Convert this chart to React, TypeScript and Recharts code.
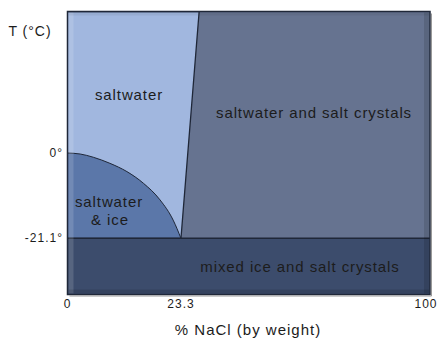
import { ComposedChart, Area, XAxis, YAxis, ReferenceLine } from "recharts";

// axis ticks
const xTicks = [0, 23.3, 100];
const yTicks = [-21.1, 0];
const tMin = -35;
const tMax = 35;
const eutecticT = -21.1;

// ice liquidus: pure water freezing point down to the eutectic point
const iceCurveX = [0, 2.6, 5.3, 8.7, 12.2, 15.6, 19.0, 21.7, 23.3];
const iceCurveT = [0, -0.25, -1.05, -2.55, -4.6, -7.5, -11.6, -16.6, -21.1];

// salt solubility line: eutectic point up to the top of the chart
const saltLineX = [23.3, 28.9];
const saltLineT = [-21.1, 35];

const FONT = "'Liberation Sans', Arial, sans-serif";
const INK = "#1c1c1c";
const EDGE = "#1f2738";

// the drawing is schematic: 23.3 % sits at ~31 % of the width
function piecewiseScale(stops: number[], fracs: number[]): any {
  let dom = [stops[0], stops[stops.length - 1]];
  let rng = [0, 1];
  const scale: any = (v: number) => {
    let i = 0;
    while (i < stops.length - 2 && v > stops[i + 1]) i++;
    const t = (v - stops[i]) / (stops[i + 1] - stops[i]);
    const f = fracs[i] + t * (fracs[i + 1] - fracs[i]);
    return rng[0] + f * (rng[1] - rng[0]);
  };
  scale.domain = (d?: number[]) => {
    if (!d) return dom.slice();
    dom = d.slice();
    return scale;
  };
  scale.range = (r?: number[]) => {
    if (!r) return rng.slice();
    rng = r.slice();
    return scale;
  };
  scale.copy = () => piecewiseScale(stops, fracs).domain(dom).range(rng);
  scale.ticks = () => stops.slice();
  scale.tickFormat = () => (v: number) => String(v);
  scale.invert = (px: number) => {
    const f = (px - rng[0]) / (rng[1] - rng[0]);
    let i = 0;
    while (i < fracs.length - 2 && f > fracs[i + 1]) i++;
    const t = (f - fracs[i]) / (fracs[i + 1] - fracs[i]);
    return stops[i] + t * (stops[i + 1] - stops[i]);
  };
  return scale;
}

const xScale = piecewiseScale([0, 23.3, 100], [0, 0.313, 1]);

const band = (lo: number, hi: number) => [
  { x: xTicks[0], t: [lo, hi] },
  { x: xTicks[2], t: [lo, hi] },
];

const saltwaterData = [
  { x: iceCurveX[0], t: [eutecticT, tMax] },
  { x: saltLineX[0], t: [saltLineT[0], tMax] },
  { x: saltLineX[1], t: [saltLineT[1], tMax] },
];

const iceData = iceCurveX.map((x, i) => ({ x, t: [eutecticT, iceCurveT[i]] }));

const XTick = (props: any) => {
  const { x, y, payload, index } = props;
  // last label hugs the right edge of the picture
  const shift = index === xTicks.length - 1 ? -4 : 0;
  return (
    <text x={x + shift} y={y} dy={13} textAnchor="middle" fontSize={12} letterSpacing={1} fill={INK} stroke="none" fontFamily={FONT}>
      {payload.value}
    </text>
  );
};

const YTick = (props: any) => {
  const { x, y, payload } = props;
  return (
    <text x={x - 4.5} y={y} dy={4} textAnchor="end" fontSize={12} letterSpacing={1} fill={INK} stroke="none" fontFamily={FONT}>
      {payload.value}°
    </text>
  );
};

const label = (x: number, y: number, s: string, size = 15, ls = 0.9) => (
  <text x={x} y={y} textAnchor="middle" fontSize={size} letterSpacing={ls} fill={INK} fontFamily={FONT}>
    {s}
  </text>
);

export default function App() {
  const L = 67.5, T = 11.5, R = 430, B = 294.5;
  return (
    <div style={{ position: "absolute", left: 0, top: 0, width: 438, height: 339, background: "#fff" }}>
      <ComposedChart width={438} height={339} margin={{ top: T, right: 438 - R, bottom: 339 - B - 1, left: L - 1 }}>
        <XAxis
          type="number"
          dataKey="x"
          domain={[0, 100]}
          scale={xScale}
          ticks={xTicks}
          interval={0}
          height={1}
          axisLine={false}
          tickLine={false}
          tickSize={0}
          tickMargin={0}
          tick={<XTick />}
          allowDataOverflow
        />
        <YAxis
          type="number"
          domain={[tMin, tMax]}
          ticks={yTicks}
          interval={0}
          width={1}
          axisLine={false}
          tickLine={false}
          tickSize={0}
          tickMargin={0}
          tick={<YTick />}
          allowDataOverflow
        />
        <Area data={band(tMin, eutecticT)} dataKey="t" type="linear" fill="#3c4c6c" fillOpacity={1} stroke="none" isAnimationActive={false} dot={false} activeDot={false} />
        <Area data={band(eutecticT, tMax)} dataKey="t" type="linear" fill="#667390" fillOpacity={1} stroke="none" isAnimationActive={false} dot={false} activeDot={false} />
        <Area data={saltwaterData} dataKey="t" type="linear" fill="#a1b7df" fillOpacity={1} stroke={EDGE} strokeWidth={1.3} isAnimationActive={false} dot={false} activeDot={false} />
        <Area data={iceData} dataKey="t" type="monotone" fill="#5b77a9" fillOpacity={1} stroke={EDGE} strokeWidth={1} isAnimationActive={false} dot={false} activeDot={false} />
        <ReferenceLine y={eutecticT} stroke={EDGE} strokeWidth={1.5} />
      </ComposedChart>
      <svg width={438} height={339} style={{ position: "absolute", left: 0, top: 0, pointerEvents: "none" }}>
        {/* bevel of the plot frame */}
        <rect x={L + 1} y={T + 1} width={5} height={B - T - 2} fill="#ffffff" opacity={0.14} />
        <rect x={R - 6} y={T + 1} width={5} height={B - T - 2} fill="#000000" opacity={0.12} />
        <rect x={L + 1} y={B - 5} width={R - L - 2} height={4} fill="#000000" opacity={0.12} />
        <rect x={L + 1} y={T + 1} width={R - L - 2} height={3} fill="#000000" opacity={0.06} />
        <rect x={L} y={T} width={R - L} height={B - T} fill="none" stroke={EDGE} strokeWidth={1.5} />
        <line x1={R + 1.5} y1={T + 2} x2={R + 1.5} y2={B + 1.5} stroke="#999" strokeWidth={1} />
        <line x1={L + 2} y1={B + 1.5} x2={R + 1.5} y2={B + 1.5} stroke="#999" strokeWidth={1} />
        {label(30, 36, "T (°C)", 14, 1)}
        {label(129, 100, "saltwater")}
        {label(314, 118, "saltwater and salt crystals")}
        {label(109, 207, "saltwater")}
        {label(110, 225, "& ice")}
        {label(300, 272, "mixed ice and salt crystals")}
        {label(248, 335, "% NaCl (by weight)", 15, 1)}
      </svg>
    </div>
  );
}
